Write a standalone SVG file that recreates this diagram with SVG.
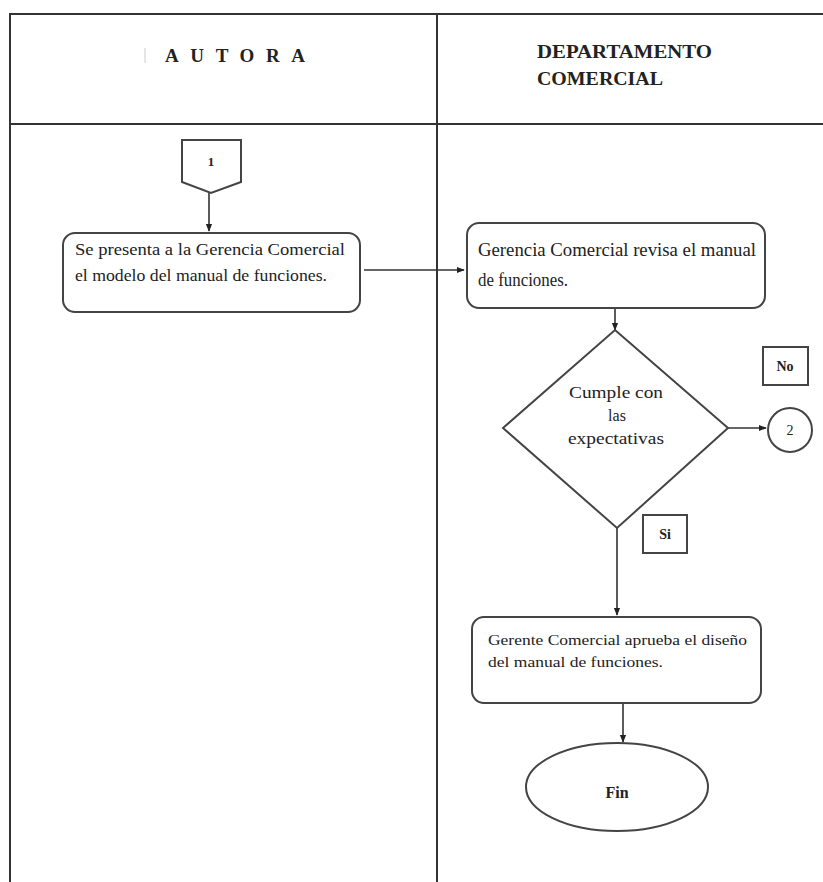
<svg xmlns="http://www.w3.org/2000/svg" width="823" height="882" viewBox="0 0 823 882">
<defs>
<style>
.ln{stroke:#333;stroke-width:2;fill:none}
.shape{fill:#fff;stroke:#444;stroke-width:2}
.conn{stroke:#333;stroke-width:1.6;fill:none;marker-end:url(#ah)}
text{font-family:"Liberation Serif","Tinos","DejaVu Serif","Times New Roman",serif;fill:#222}
.hd{font-weight:bold}
</style>
<marker id="ah" viewBox="0 0 10 10" refX="9" refY="5" markerWidth="5" markerHeight="5" orient="auto">
<path d="M0,1 L10,5 L0,9 Z" fill="#222"/>
</marker>
</defs>
<rect width="823" height="882" fill="#fff"/>
<g id="table">
<path class="ln" d="M10,882 V14 H823"/>
<path class="ln" d="M10,124 H823"/>
<path class="ln" d="M437,14 V882"/>
<line x1="145" y1="48" x2="145" y2="63" stroke="#ccc" stroke-width="1"/>
<text class="hd" x="165" y="62" font-size="19" font-family="Liberation Serif, serif" textLength="140" lengthAdjust="spacing">AUTORA</text>
<text class="hd" x="537" y="58" font-size="18" font-family="Liberation Serif, serif" textLength="175" lengthAdjust="spacingAndGlyphs">DEPARTAMENTO</text>
<text class="hd" x="537" y="85" font-size="18" font-family="Liberation Serif, serif" textLength="126" lengthAdjust="spacingAndGlyphs">COMERCIAL</text>
</g>
<g id="connectors">
<line class="conn" x1="209" y1="193" x2="209" y2="231"/>
<line class="conn" x1="364" y1="270" x2="464" y2="270"/>
<line class="conn" x1="615" y1="308" x2="615" y2="330"/>
<line class="conn" x1="728" y1="428" x2="766" y2="428"/>
<line class="conn" x1="617" y1="528" x2="617" y2="615"/>
<line class="conn" x1="623" y1="703" x2="623" y2="742"/>
</g>
<g id="node1">
<path class="shape" d="M182,140 H241 V182 L211,193 L182,182 Z"/>
<text x="211" y="166" font-size="13" font-weight="bold" text-anchor="middle" font-family="Liberation Serif, serif">1</text>
</g>
<g id="box1">
<rect class="shape" x="63" y="233" width="297" height="79" rx="12"/>
<text x="75" y="255" font-size="16" font-family="Liberation Serif, serif" textLength="270" lengthAdjust="spacingAndGlyphs">Se presenta a la Gerencia Comercial</text>
<text x="75" y="281" font-size="16" font-family="Liberation Serif, serif" textLength="252" lengthAdjust="spacingAndGlyphs">el modelo del manual de funciones.</text>
</g>
<g id="box2">
<rect class="shape" x="467" y="223" width="298" height="85" rx="12"/>
<text x="478" y="256" font-size="18" font-family="Liberation Serif, serif" textLength="278" lengthAdjust="spacingAndGlyphs">Gerencia Comercial revisa el manual</text>
<text x="478" y="286" font-size="18" font-family="Liberation Serif, serif" textLength="90" lengthAdjust="spacingAndGlyphs">de funciones.</text>
</g>
<g id="decision">
<path class="shape" d="M615,330 L728,428 L617,528 L503,428 Z"/>
<text x="616" y="398" font-size="16" text-anchor="middle" fill="#444" font-family="Liberation Serif, serif" textLength="94" lengthAdjust="spacingAndGlyphs">Cumple con</text>
<text x="617" y="421" font-size="16" text-anchor="middle" fill="#444" font-family="Liberation Serif, serif">las</text>
<text x="616" y="444" font-size="16" text-anchor="middle" fill="#444" font-family="Liberation Serif, serif" textLength="96" lengthAdjust="spacingAndGlyphs">expectativas</text>
</g>
<g id="labelNo">
<rect class="shape" x="763" y="347" width="45" height="38" stroke-width="1.5"/>
<text x="785" y="371" font-size="14" font-weight="bold" text-anchor="middle" font-family="Liberation Serif, serif">No</text>
</g>
<g id="node2">
<circle class="shape" cx="790" cy="430" r="22" stroke-width="1.5"/>
<text x="790" y="435" font-size="14" text-anchor="middle" font-family="Liberation Serif, serif">2</text>
</g>
<g id="labelSi">
<rect class="shape" x="643" y="515" width="44" height="38" stroke-width="1.5"/>
<text x="665" y="539" font-size="14" font-weight="bold" text-anchor="middle" font-family="Liberation Serif, serif">Si</text>
</g>
<g id="box3">
<rect class="shape" x="472" y="617" width="289" height="86" rx="12"/>
<text x="488" y="645" font-size="15" font-family="Liberation Serif, serif" textLength="259" lengthAdjust="spacingAndGlyphs">Gerente Comercial aprueba el diseño</text>
<text x="488" y="667" font-size="15" font-family="Liberation Serif, serif" textLength="175" lengthAdjust="spacingAndGlyphs">del manual de funciones.</text>
</g>
<g id="fin">
<ellipse class="shape" cx="617" cy="787" rx="91" ry="44" stroke-width="1.5"/>
<text x="617" y="798" font-size="16" font-weight="bold" text-anchor="middle" font-family="Liberation Serif, serif">Fin</text>
</g>
</svg>
